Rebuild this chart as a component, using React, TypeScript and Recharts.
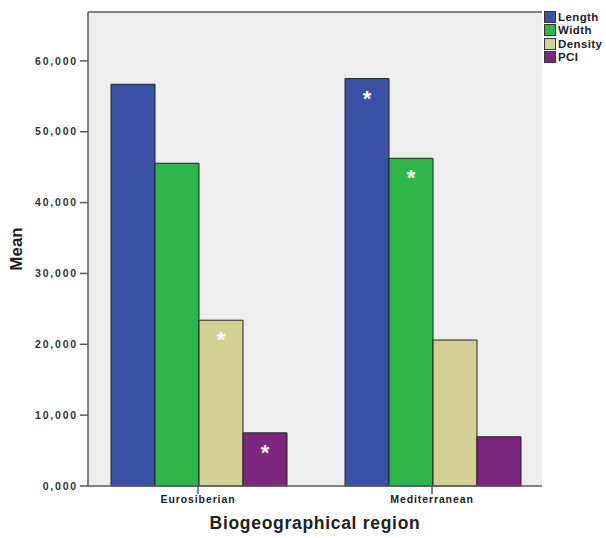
import { BarChart, Bar, XAxis, YAxis, CartesianGrid, Legend, LabelList } from 'recharts'

const regions = ['Eurosiberian', 'Mediterranean']
const lengthMean = [56700, 57500]
const widthMean = [45550, 46250]
const densityMean = [23400, 20600]
const pciMean = [7500, 6950]
// asterisks shown inside bars (significant differences)
const lengthSig = [false, true]
const widthSig = [false, true]
const densitySig = [true, false]
const pciSig = [true, false]
const yTicks = [0, 10000, 20000, 30000, 40000, 50000, 60000]
const yMax = 66900

const series = [
  { key: 'Length', values: lengthMean, sig: lengthSig, color: '#3a52a6' },
  { key: 'Width', values: widthMean, sig: widthSig, color: '#2fb64a' },
  { key: 'Density', values: densityMean, sig: densitySig, color: '#d3cf95' },
  { key: 'PCI', values: pciMean, sig: pciSig, color: '#7c2680' },
]

const data = regions.map((region, i) => {
  const row: Record<string, string | number> = { region }
  series.forEach((s) => {
    row[s.key] = s.values[i]
  })
  return row
})

const font = '"Liberation Sans", Arial, sans-serif'
const frame = '#5a5a5a'

const fmt = (v: number) => `${Math.floor(v / 1000)},${String(v % 1000).padStart(3, '0')}`

function Star(sig: boolean[]) {
  return (props: any) => {
    const { x, y, width, index } = props
    if (!sig[index]) return null
    return (
      <text
        x={Number(x) + Number(width) / 2}
        y={Number(y) + 27}
        textAnchor="middle"
        fill="#ffffff"
        fontSize={22}
        fontWeight="bold"
        fontFamily={font}
      >
        *
      </text>
    )
  }
}

function LegendBox() {
  return (
    <div style={{ fontFamily: font }}>
      {series.map((s) => (
        <div key={s.key} style={{ display: 'flex', alignItems: 'center', height: 13.5 }}>
          <span
            style={{
              width: 10,
              height: 10,
              background: s.color,
              border: '1px solid #333',
              marginRight: 2,
            }}
          />
          <span style={{ fontSize: 11.5, fontWeight: 'bold', color: '#222', letterSpacing: 0.4 }}>
            {s.key}
          </span>
        </div>
      ))}
    </div>
  )
}

export default function App() {
  return (
    <div style={{ position: 'absolute', left: 0, top: 0, background: '#fff' }}>
      <BarChart
        width={606}
        height={538}
        data={data}
        margin={{ top: 10, right: 64, left: 0, bottom: 0 }}
        barGap={0}
        barCategoryGap={30}
      >
        <CartesianGrid horizontal={false} vertical={false} fill="#eeeeee" stroke="none" />
        <XAxis
          dataKey="region"
          height={52}
          padding={{ left: -7, right: -7 }}
          axisLine={{ stroke: frame, strokeWidth: 1.5 }}
          tickLine={{ stroke: frame, strokeWidth: 1.5 }}
          tickSize={8}
          tickMargin={2}
          tick={{ fill: '#222', fontSize: 10.5, fontWeight: 'bold', fontFamily: font, letterSpacing: 0.9 }}
          label={{
            value: 'Biogeographical region',
            position: 'insideBottom',
            offset: 9,
            fill: '#222',
            fontSize: 17.5,
            fontWeight: 'bold',
            fontFamily: font,
            letterSpacing: 0.7,
          }}
        />
        <XAxis
          xAxisId="top"
          dataKey="region"
          orientation="top"
          height={2}
          tick={false}
          tickLine={false}
          axisLine={{ stroke: frame, strokeWidth: 1.5 }}
        />
        <YAxis
          width={88}
          domain={[0, yMax]}
          ticks={yTicks}
          tickFormatter={fmt}
          axisLine={{ stroke: frame, strokeWidth: 1.5 }}
          tickLine={{ stroke: frame, strokeWidth: 1.5 }}
          tickSize={8}
          tickMargin={2}
          tick={{ fill: '#333', fontSize: 10.5, fontWeight: 'bold', fontFamily: font, letterSpacing: 1.8 }}
          label={{
            value: 'Mean',
            angle: -90,
            position: 'insideLeft',
            offset: 16,
            fill: '#222',
            fontSize: 17,
            fontWeight: 'bold',
            fontFamily: font,
            textAnchor: 'middle',
          }}
        />
        <YAxis
          yAxisId="right"
          orientation="right"
          width={0}
          domain={[0, yMax]}
          tick={false}
          tickLine={false}
          axisLine={{ stroke: frame, strokeWidth: 1.5 }}
        />
        <Legend
          layout="vertical"
          align="center"
          verticalAlign="middle"
          content={<LegendBox />}
          wrapperStyle={{ top: 10, left: 544, width: 62 }}
        />
        {series.map((s) => (
          <Bar
            key={s.key}
            dataKey={s.key}
            fill={s.color}
            stroke="#222"
            strokeWidth={1}
            isAnimationActive={false}
          >
            <LabelList dataKey={s.key} content={Star(s.sig)} />
          </Bar>
        ))}
      </BarChart>
    </div>
  )
}
